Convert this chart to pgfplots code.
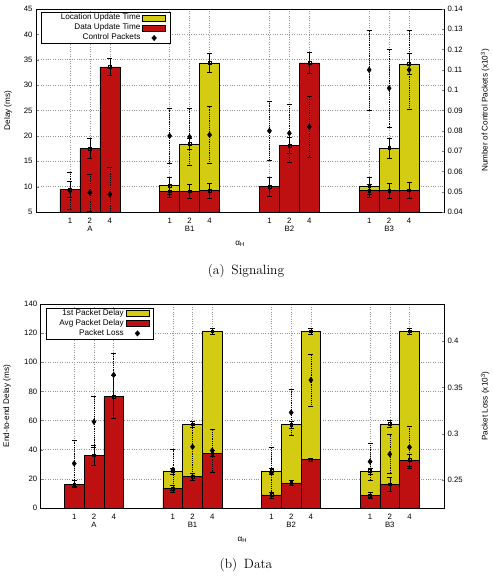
\documentclass[border=0pt]{standalone}
\usepackage{fontspec}
\usepackage{pgfplots}
\pgfplotsset{compat=1.18}
\newfontfamily\gp{Liberation Sans}
\newcommand\tickfont{\gp\fontsize{7.8}{8.5}\selectfont}
\newcommand\labelfont{\gp\fontsize{8.2}{9}\selectfont}
\definecolor{lut}{RGB}{212,204,18}
\definecolor{dut}{RGB}{190,16,16}
\definecolor{gridc}{RGB}{150,150,150}

\pgfplotsset{
  gp base/.style={
    scale only axis, anchor=south west,
    xmin=-0.7, xmax=19.75,
    tick label style={font=\tickfont},
    label style={font=\labelfont},
    /pgf/number format/assume math mode=true,
    tick align=inside, major tick length=2.5bp,
    axis line style={line width=0.6pt},
  },
  gp main/.style={
    gp base,
    xtick={1,2,3,6,7,8,11,12,13,16,17,18},
    xticklabels={1,{2\\A},4,1,{2\\B1},4,1,{2\\B2},4,1,{2\\B3},4},
    xticklabel style={align=center, yshift=-2.5bp},
    xtick style={draw=none},
    ytick pos=left,
    xmajorgrids, ymajorgrids,
    grid style={gridc, dotted, line width=0.5pt},
    legend plot pos=right, legend cell align=right,
    legend style={draw=black, fill=white, line width=0.5pt, inner xsep=4.5bp, inner ysep=0.5bp,
      font=\labelfont, nodes={inner ysep=1bp, text height=6bp, text depth=2bp}},
    xlabel={α\textsubscript{H}},
    xlabel style={at={(axis description cs:0.5,0)}, anchor=center, yshift=-31.5bp},
  },
  gp side/.style={
    gp base,
    axis x line=none, axis y line*=right,
    yticklabel style={/pgf/number format/.cd, fixed, precision=2},
  },
  bar box/.style={ybar, bar width=1, bar shift=0pt, draw=black, line width=0.5pt,
    legend image code/.code={\draw[##1] (0bp,-2.8bp) rectangle (23bp,2.8bp);}},
  bar err/.style={only marks, mark=square, mark size=1.4bp, mark options={line width=0.4pt}, black,
    error bars/y dir=both, error bars/y explicit,
    error bars/error bar style={line width=0.5pt, black},
    error bars/error mark options={rotate=90, mark size=2.5bp, line width=0.5pt}},
  pt err/.style={only marks, mark=diamond*, mark size=2.8bp, black,
    error bars/y dir=both, error bars/y explicit,
    error bars/error bar style={line width=0.5pt, black, dash pattern=on 1.2bp off 1bp},
    error bars/error mark options={rotate=90, mark size=2.5bp, line width=0.5pt, solid}},
  pt legend/.style={black,
    legend image code/.code={\fill[black] (11.5bp,2.6bp) -- (13.8bp,0bp) -- (11.5bp,-2.6bp) -- (9.2bp,0bp) -- cycle; \path (0bp,0bp) (23bp,0bp);}},
}

\begin{document}
\begin{tikzpicture}
\path[use as bounding box] (0,0) rectangle (493bp,577bp);

% ---------------- (a) Signaling ----------------
\begin{axis}[gp main,
  at={(36bp,365bp)}, width=408bp, height=203bp,
  ymin=5, ymax=45, ytick={5,10,...,45},
  ylabel={Delay (ms)},
  ylabel style={at={(axis description cs:-0.0686,0.5)}, anchor=center},
  legend style={at={(axis description cs:0.0123,0.984)}, anchor=north west},
]
% location update time
\addplot[bar box, fill=lut] coordinates {
  (6,10.2) (7,18.4) (8,34.4) (16,10.1) (17,17.6) (18,34.2)};
\addlegendentry{\hspace*{13bp}Location Update Time}
% data update time
\addplot[bar box, fill=dut] coordinates {
  (1,9.5) (2,17.5) (3,33.6) (6,9.1) (7,9.1) (8,9.2)
  (11,10.0) (12,18.1) (13,34.4) (16,9.2) (17,9.2) (18,9.3)};
\addlegendentry{Data Update Time}
\addlegendimage{pt legend}
\addlegendentry{Control Packets}
\addplot[forget plot, bar err] coordinates {
  (6,10.2) +- (0,1.7) (7,18.4) +- (0,1.1) (8,34.4) +- (0,1.8)
  (16,10.1) +- (0,1.7) (17,17.6) +- (0,2.0) (18,34.2) +- (0,2.0)};
\addplot[forget plot, bar err] coordinates {
  (1,9.5) +- (0,1.5) (2,17.5) +- (0,2.0) (3,33.6) +- (0,1.6)
  (6,9.1) +- (0,1.2) (7,9.1) +- (0,1.4) (8,9.2) +- (0,1.5)
  (11,10.0) +- (0,1.8) (12,18.1) +- (0,1.6) (13,34.4) +- (0,2.0)
  (16,9.2) +- (0,1.2) (17,9.2) +- (0,1.4) (18,9.3) +- (0,1.5)};
\end{axis}
\begin{axis}[gp side,
  at={(36bp,365bp)}, width=408bp, height=203bp,
  ymin=0.04, ymax=0.14,
  ytick={0.04,0.05,0.06,0.07,0.08,0.09,0.1,0.11,0.12,0.13,0.14},
  ylabel={Number of Control Packets (x10\textsuperscript{3})},
  ylabel style={at={(axis description cs:1.1005,0.5)}, anchor=center},
]
% control packets
\addplot[pt err] coordinates {
  (1,0.0505) +- (0,0.009) (2,0.0496) +- (0,0.0092) (3,0.0487) +- (0,0.0135)
  (6,0.0775) +- (0,0.0135) (7,0.0770) +- (0,0.0139) (8,0.0780) +- (0,0.0139)
  (11,0.0800) +- (0,0.0145) (12,0.0788) +- (0,0.0145) (13,0.0820) +- (0,0.0148)
  (16,0.1100) +- (0,0.0197) (17,0.1010) +- (0,0.0193) (18,0.1100) +- (0,0.0196)};
\end{axis}
\node[font=\fontsize{13.5}{15}\selectfont] at (246bp,306bp) {(a)\hspace{0.5em}Signaling};

% ---------------- (b) Data ----------------
\begin{axis}[gp main,
  at={(40.7bp,69bp)}, width=403.3bp, height=204bp,
  ymin=0, ymax=140, ytick={0,20,...,140},
  ylabel={End-to-end Delay (ms)},
  ylabel style={at={(axis description cs:-0.0836,0.5)}, anchor=center},
  legend style={at={(axis description cs:0.0124,0.982)}, anchor=north west},
]
% first packet delay
\addplot[bar box, fill=lut] coordinates {
  (6,25.4) (7,57.5) (8,121.4) (11,25.4) (12,57.2) (13,121.3)
  (16,25.4) (17,57.7) (18,121.3)};
\addlegendentry{\hspace*{10bp}1st Packet Delay}
% average packet delay
\addplot[bar box, fill=dut] coordinates {
  (1,16.4) (2,36.3) (3,76.4) (6,13.4) (7,21.5) (8,37.3)
  (11,9.0) (12,17.3) (13,33.3) (16,8.6) (17,16.4) (18,32.9)};
\addlegendentry{Avg Packet Delay}
\addlegendimage{pt legend}
\addlegendentry{Packet Loss}
\addplot[forget plot, bar err] coordinates {
  (6,25.4) +- (0,2.0) (7,57.5) +- (0,2.3) (8,121.4) +- (0,2.3)
  (11,25.4) +- (0,2.0) (12,57.2) +- (0,2.5) (13,121.3) +- (0,2.3)
  (16,25.4) +- (0,2.0) (17,57.7) +- (0,2.3) (18,121.3) +- (0,2.3)};
\addplot[forget plot, bar err] coordinates {
  (1,16.4) +- (0,2.5) (2,36.3) +- (0,6.9) (3,76.4) +- (0,14.9)
  (6,13.4) +- (0,2.3) (7,21.5) +- (0,2.5) (8,37.3) +- (0,2.0)
  (11,9.0) +- (0,2.0) (12,17.3) +- (0,1.5) (13,33.3) +- (0,1.0)
  (16,8.6) +- (0,2.0) (17,16.4) +- (0,5.0) (18,32.9) +- (0,4.0)};
\end{axis}
\begin{axis}[gp side,
  at={(40.7bp,69bp)}, width=403.3bp, height=204bp,
  ymin=0.22, ymax=0.44,
  ytick={0.25,0.3,0.35,0.4},
  ylabel={Packet Loss (x10\textsuperscript{3})},
  ylabel style={at={(axis description cs:1.1017,0.5)}, anchor=center},
]
% packet loss
\addplot[pt err] coordinates {
  (1,0.2680) +- (0,0.025) (2,0.3130) +- (0,0.027) (3,0.3635) +- (0,0.0234)
  (6,0.2610) +- (0,0.022) (7,0.2860) +- (0,0.028) (8,0.2820) +- (0,0.023)
  (11,0.2580) +- (0,0.027) (12,0.3230) +- (0,0.025) (13,0.3580) +- (0,0.028)
  (16,0.2700) +- (0,0.020) (17,0.2780) +- (0,0.021) (18,0.2855) +- (0,0.023)};
\end{axis}
\node[font=\fontsize{13.5}{15}\selectfont] at (246bp,12bp) {(b)\hspace{0.5em}Data};
\end{tikzpicture}
\end{document}
